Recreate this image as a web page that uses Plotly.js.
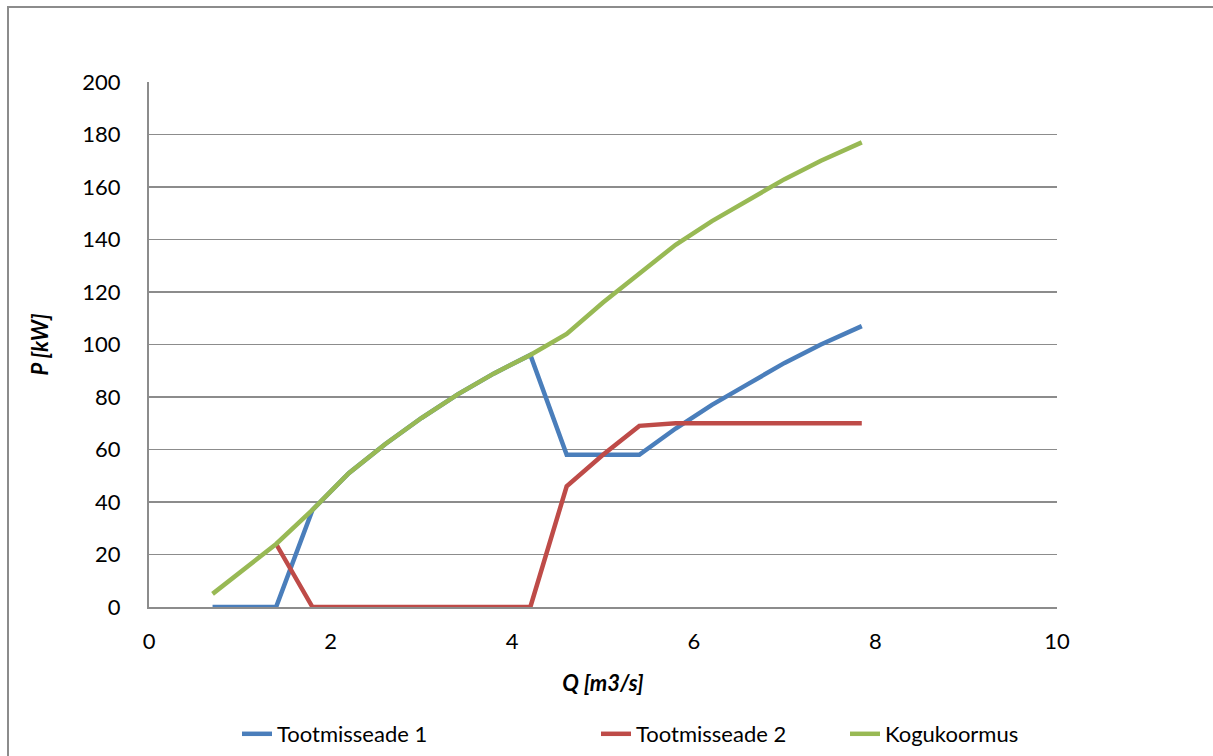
<!DOCTYPE html>
<html>
<head>
<meta charset="utf-8">
<script src="https://cdn.plot.ly/plotly-3.0.1.min.js"></script>
<style>
html,body{margin:0;padding:0;background:#fff;overflow:hidden;}
#chart{width:1213px;height:756px;position:absolute;left:0;top:0;}
#frame{position:absolute;left:7px;top:6px;width:1300px;height:900px;border-left:2px solid #8c8c8c;border-top:2px solid #8c8c8c;pointer-events:none;z-index:5;}
</style>
</head>
<body>
<div id="chart"></div>
<div id="frame"></div>
<script>
const q = [0.7, 1.4, 1.8, 2.2, 2.6, 3.0, 3.4, 3.8, 4.2, 4.6, 5.0, 5.4, 5.8, 6.2, 6.6, 7.0, 7.4, 7.85];
const tootmisseade1 = [0, 0, 37, 51, 62, 72, 81, 89, 96, 58, 58, 58, 68, 77, 85, 93, 100, 107];
const tootmisseade2 = [5, 24, 0, 0, 0, 0, 0, 0, 0, 46, 58, 69, 70, 70, 70, 70, 70, 70];
const kogukoormus = [5, 24, 37, 51, 62, 72, 81, 89, 96, 104, 116, 127, 138, 147, 155, 163, 170, 177];
const seriesNames = ["Tootmisseade 1", "Tootmisseade 2", "Kogukoormus"];
const xTitle = "Q [m3/s]";
const yTitle = "P [kW]";

// Tootmisseade 2 starts at Q=1.4 in the reference (first point not drawn)
const q2 = q.slice(1);
const t2 = tootmisseade2.slice(1);

const FONT = "Lato, 'Open Sans', 'DejaVu Sans', sans-serif";
const FS = 22;
const traces = [
  {x: q, y: tootmisseade1, name: seriesNames[0], mode: "lines", line: {color: "#4A7EBB", width: 4.5}, legend: "legend"},
  {x: q2, y: t2, name: seriesNames[1], mode: "lines", line: {color: "#BE4B48", width: 4.5}, legend: "legend2"},
  {x: q, y: kogukoormus, name: seriesNames[2], mode: "lines", line: {color: "#98B954", width: 4.5}, legend: "legend3"}
];
function leg(xpx) {
  return {orientation: "h", xref: "container", yref: "container", x: xpx / 1213, xanchor: "left",
          y: 1 - 713 / 756, yanchor: "top", bgcolor: "rgba(0,0,0,0)",
          font: {family: FONT, size: FS, color: "#000"}};
}
const layout = {
  width: 1213, height: 756,
  margin: {l: 149, r: 156, t: 82, b: 149, autoexpand: false},
  paper_bgcolor: "#ffffff", plot_bgcolor: "#ffffff",
  font: {family: FONT, size: FS, color: "#000"},
  showlegend: true,
  legend: leg(237), legend2: leg(596), legend3: leg(845),
  xaxis: {
    range: [0, 10], dtick: 2, tick0: 0, showgrid: false, zeroline: false, automargin: false,
    showline: true, linecolor: "#8c8c8c", linewidth: 2, ticks: "", ticklabelstandoff: 14,
    tickfont: {family: FONT, size: FS}, fixedrange: true,
    title: {text: "<b><i>" + xTitle + "</i></b>", font: {family: FONT, size: FS}, standoff: 22}
  },
  yaxis: {
    range: [0, 200], dtick: 20, tick0: 0, showgrid: true, gridcolor: "#8c8c8c", gridwidth: 1.5,
    zeroline: false, showline: true, linecolor: "#8c8c8c", linewidth: 2, ticks: "", automargin: false,
    ticklabelstandoff: 22,
    tickfont: {family: FONT, size: FS}, fixedrange: true,
    title: {text: "<b><i>" + yTitle + "</i></b>", font: {family: FONT, size: FS}, standoff: 28}
  }
};
Plotly.newPlot("chart", traces, layout, {staticPlot: true, displayModeBar: false});
</script>
</body>
</html>
